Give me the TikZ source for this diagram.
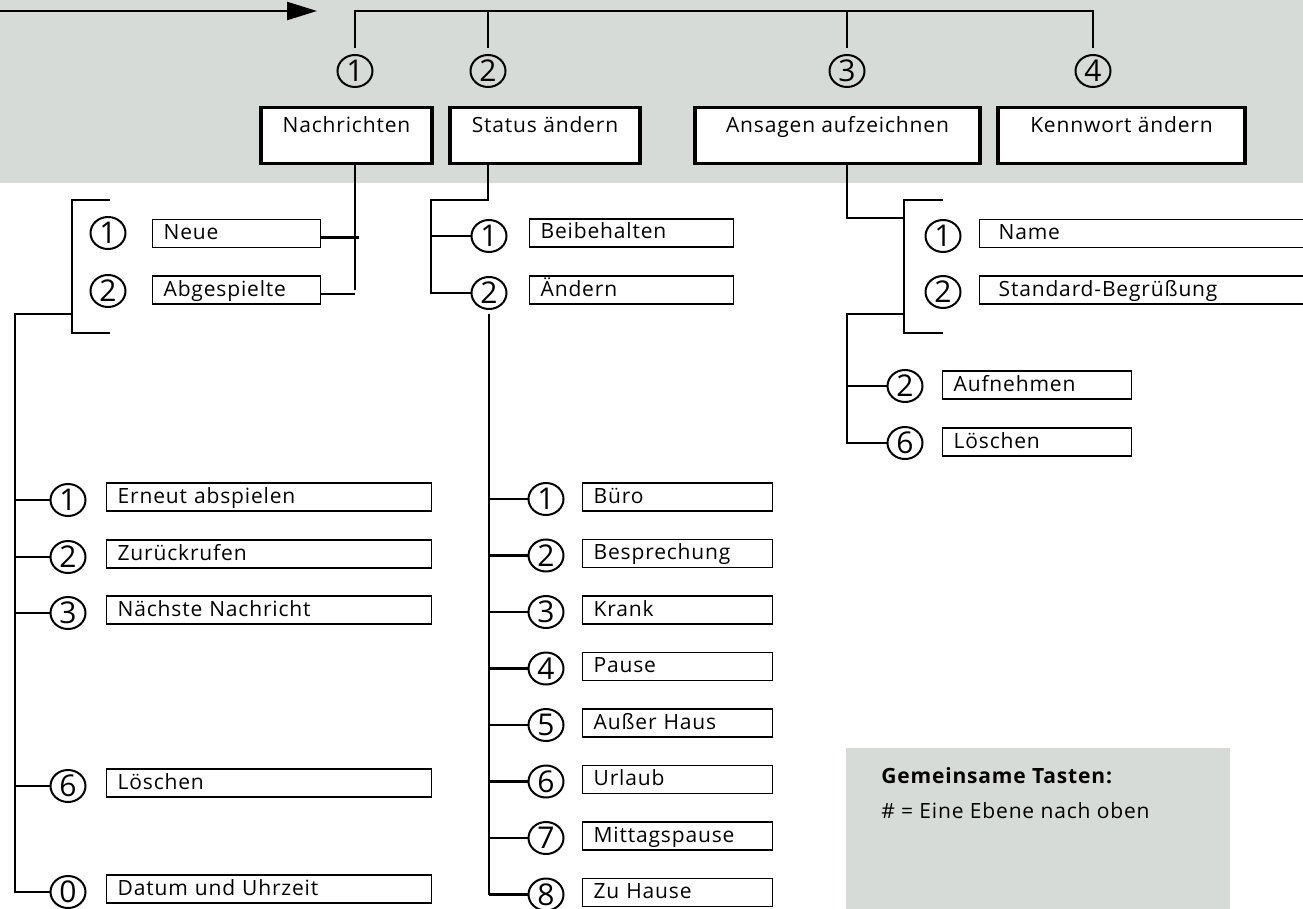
\documentclass[tikz,border=0pt]{standalone}
\usepackage{fontspec}
\setmainfont{Open Sans}[LetterSpace=4]
\usetikzlibrary{arrows.meta,shapes.geometric}
\definecolor{panelgray}{RGB}{214,219,216}

\begin{document}
\begin{tikzpicture}[x=1pt, y=-1pt, line width=2.5pt,
  menubox/.style={draw, line width=3.3pt, fill=white, anchor=north, minimum width=#1, inner sep=8pt, text height=17pt, text depth=23pt, font=\fontsize{21}{24}\selectfont},
  itembox/.style={draw, line width=1.3pt, fill=white, anchor=west, inner xsep=11pt, inner ysep=5pt, text width=#1, align=left, text height=15pt, text depth=3pt, font=\fontsize{21}{24}\selectfont},
  keynum/.style={ellipse, draw, line width=2pt, minimum width=35pt, minimum height=32pt, inner sep=0pt, font=\fontsize{30}{30}\selectfont}]
\useasboundingbox (0,0) rectangle (1303,909);
\clip (0,0) rectangle (1303,909);

% grey band and legend
\fill[panelgray] (0,0) rectangle (1303,183);
\fill[panelgray] (846,748) rectangle (1230,930);
\node[anchor=base west, inner sep=0pt, font=\fontsize{21}{24}\selectfont\bfseries] (legtitle) at (880,783) {Gemeinsame Tasten:};
\node[anchor=base west, inner sep=0pt, font=\fontsize{21}{24}\selectfont] (legtext) at (880,818) {\# = Eine Ebene nach oben};

% main menu
\coordinate (entry) at (0,11);
\coordinate (goal) at (317,11);
\coordinate (bus) at (0,11);
\draw[-{Triangle[length=30pt,width=18pt]}] (entry) -- (goal);
\node[keynum] (k1) at (355,71) {1};
\node[keynum] (k2) at (488,71) {2};
\node[keynum] (k3) at (847,71) {3};
\node[keynum] (k4) at (1093,71) {4};
\draw ([yshift=6pt]k1.north) -- (k1 |- bus) -- (k4 |- bus) -- ([yshift=6pt]k4.north);
\draw (k2 |- bus) -- ([yshift=6pt]k2.north);
\draw (k3 |- bus) -- ([yshift=6pt]k3.north);
\node[menubox=171pt] (m1) at (346.5,106) {Nachrichten};
\node[menubox=190pt] (m2) at (545,106) {Status ändern};
\node[menubox=285pt] (m3) at (837.5,106) {Ansagen aufzeichnen};
\node[menubox=247pt] (m4) at (1121.5,106) {Kennwort ändern};

% Nachrichten
\node[keynum] (n1) at (108,233) {1};
\node[keynum] (n2) at (108,291) {2};
\node[itembox=146pt] (neue) at (152,233.5) {Neue};
\node[itembox=146pt] (abgesp) at (152,290) {Abgespielte};
\draw (m1.south -| k1) -- (k1 |- abgesp.east) ++(0,4) -- ([yshift=-4pt]abgesp.east);
\draw ([yshift=-4pt]neue.east) -- ++(38,0);
\coordinate (lbtop) at (110,200);
\coordinate (lbbot) at (110,333);
\draw (lbtop) -- ++(-38,0) |- (lbbot);
\coordinate (lbjoin) at (72,314);
\coordinate (ltrunk) at (15,314);
\foreach \k/\y/\t in {1/501/Erneut abspielen, 2/558/Zurückrufen, 3/614/Nächste Nachricht, 6/787/Löschen, 0/893/Datum und Uhrzeit}{
  \node[keynum] (L\k) at (68,\y-1) {\k};
  \node[itembox=303pt] (LB\k) at (106,\y-4) {\t};
  \draw (ltrunk |- L\k.west) -- (L\k.west);
}
\draw (lbjoin) -- (ltrunk) |- (L0.west);

% Status aendern
\node[keynum] (s1) at (489,236) {1};
\node[keynum] (s2) at (489,293) {2};
\node[itembox=182pt] (keep) at (529,233) {Beibehalten};
\node[itembox=182pt] (change) at (529,290) {Ändern};
\coordinate (sbend) at (431,200);
\draw (m2.south -| k2) |- (sbend) |- (s2.west);
\draw (sbend |- s1.west) -- (s1.west);
\foreach \k/\t in {1/Büro, 2/Besprechung, 3/Krank, 4/Pause, 5/Außer Haus, 6/Urlaub, 7/Mittagspause, 8/Zu Hause}{
  \pgfmathsetmacro\y{502+(\k-1)*56.5}
  \node[keynum] (S\k) at (546,\y-3) {\k};
  \node[itembox=168pt] (SB\k) at (582,\y-5) {\t};
  \draw (s2 |- S\k.west) -- (S\k.west);
}
\draw ([yshift=-4pt]s2.south) -- (s2 |- S8.west);

% Ansagen aufzeichnen
\coordinate (abend) at (904,218);
\draw (m3.south -| k3) |- (abend);
\coordinate (abtop) at (943,200);
\coordinate (abbot) at (943,333);
\draw (abtop) -- ++(-39,0) |- (abbot);
\node[keynum] (a1) at (943,236) {1};
\node[keynum] (a2) at (943,292) {2};
\node[itembox=300pt, inner xsep=19pt] (name) at (979,233.5) {Name};
\node[itembox=300pt, inner xsep=19pt] (std) at (979,290) {Standard-Begrüßung};
\coordinate (ajoin) at (904,314);
\coordinate (atrunk) at (847,314);
\node[keynum] (r2) at (905,386) {2};
\node[keynum] (r6) at (905,443) {6};
\node[itembox=167pt] (rec) at (942,385) {Aufnehmen};
\node[itembox=167pt] (del) at (942,442) {Löschen};
\draw (ajoin) -- (atrunk) |- (r6.west);
\draw (atrunk |- r2.west) -- (r2.west);
\end{tikzpicture}
\end{document}
